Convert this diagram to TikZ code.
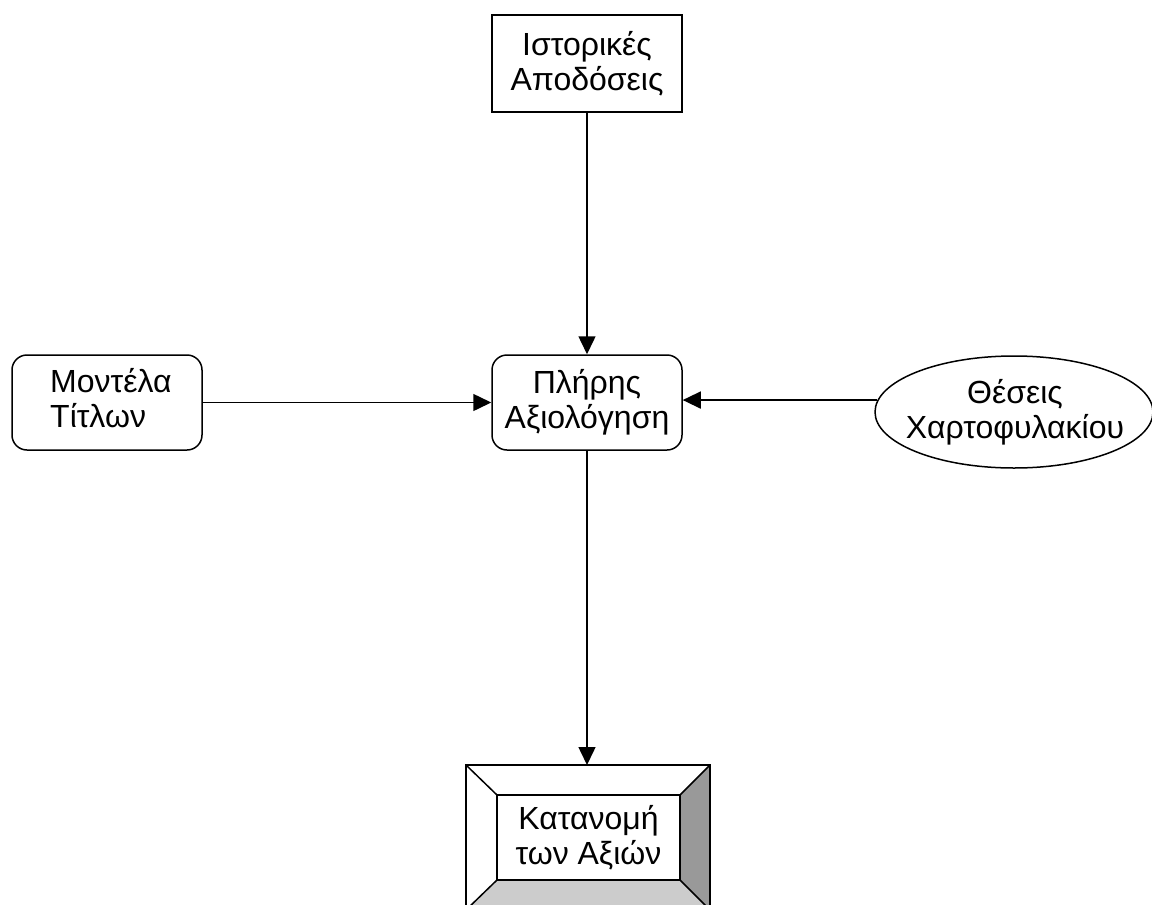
\documentclass[tikz,border=0pt]{standalone}
\usepackage{fontspec}
\setmainfont{Liberation Sans}
\usetikzlibrary{shapes.geometric,arrows.meta}
\begin{document}
\begin{tikzpicture}[x=1pt,y=-1pt,
  every node/.style={font=\fontsize{32}{35}\selectfont, align=center, inner sep=0pt},
  line/.style={line width=1.5pt},
  arr/.style={line, -{Triangle[length=18pt,width=17pt]}},
  plainbox/.style={draw, line width=1.5pt, minimum width=190pt, minimum height=97pt},
  roundbox/.style={draw, line width=1.5pt, rounded corners=15pt, minimum width=190pt, minimum height=95pt},
  oval/.style={draw, ellipse, line width=1.5pt, minimum width=278pt, minimum height=112pt},
  lightshade/.style={fill=black!20},
  darkshade/.style={fill=black!40}]
\useasboundingbox (0,0) rectangle (1152,905);
\clip (0,0) rectangle (1152,905);

% source boxes
\node[plainbox] (hist) at (587,63.5) {Ιστορικές\\Αποδόσεις};
\node[roundbox] (model) at (107,402.5) {};
\node[anchor=west] (modeltext) at (50,403) {\begin{tabular}{@{}l@{}}Μοντέλα\\Τίτλων\end{tabular}};
\node[roundbox] (eval) at (587,402.5) {Πλήρης\\Αξιολόγηση};
\node[oval] (pos) at (1014,412) {};
\node (postext) at (1015,412) {Θέσεις\\Χαρτοφυλακίου};

% bevelled output box
\coordinate (o1) at (466,765);
\coordinate (o2) at (710,765);
\coordinate (o3) at (710,910);
\coordinate (o4) at (466,910);
\coordinate (i1) at (497,795);
\coordinate (i2) at (680,795);
\coordinate (i3) at (680,880);
\coordinate (i4) at (497,880);
\fill[darkshade] (o2) -- (o3) -- (i3) -- (i2) -- cycle;
\fill[lightshade] (o4) -- (o3) -- (i3) -- (i4) -- cycle;
\draw[line] (o1) -- (o2) -- (o3) -- (o4) -- cycle;
\draw[line] (i1) -- (i2) -- (i3) -- (i4) -- cycle;
\draw[line] (o1) -- (i1) (o2) -- (i2) (o3) -- (i3) (o4) -- (i4);
\node[minimum width=183pt, minimum height=85pt] (alloc) at (588.5,837.5) {Κατανομή\\των Αξιών};
\coordinate (alloctop) at (587,765);

% connectors
\draw[arr] (hist.south) -- (eval.north);
\draw[arr] (model.east) -- (eval.west);
\draw[arr] (pos.175) -- (pos.175 -| eval.east);
\draw[arr] (eval.south) -- (alloctop);
\end{tikzpicture}
\end{document}
